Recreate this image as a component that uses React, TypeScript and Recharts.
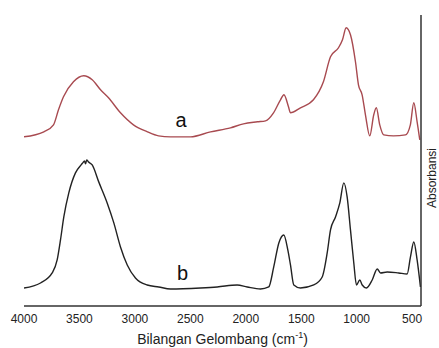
import { LineChart, Line, XAxis, YAxis, ReferenceDot } from "recharts";

// spectrum a (red, upper)
const wavenumbersA = [
  4000, 3821, 3734, 3689, 3644, 3554, 3461, 3385, 3310, 3238, 3130, 3013, 2887, 2787, 2679, 2499,
  2318, 2138, 2021, 1895, 1822, 1750, 1687, 1656, 1615, 1597, 1507, 1390, 1300, 1236, 1164, 1128,
  1095, 1056, 1011, 984, 951, 921, 882, 846, 823, 792, 756, 668, 560, 516, 485, 455, 431,
];
const absorbanceA = [
  1.69, 1.74, 1.81, 1.96, 2.09, 2.24, 2.3, 2.26, 2.16, 2.08, 1.93, 1.81, 1.74, 1.7, 1.69, 1.69,
  1.74, 1.78, 1.82, 1.84, 1.85, 1.93, 2.06, 2.11, 1.99, 1.93, 1.98, 2.06, 2.24, 2.49, 2.58, 2.66,
  2.78, 2.71, 2.44, 2.21, 2.11, 1.91, 1.7, 1.91, 1.98, 1.81, 1.71, 1.7, 1.71, 1.81, 2.03, 1.84, 1.66,
];

// spectrum b (black, lower)
const wavenumbersB = [
  4000, 3851, 3746, 3701, 3671, 3641, 3596, 3536, 3485, 3470, 3455, 3445, 3435, 3420, 3385, 3326,
  3250, 3190, 3130, 3069, 2995, 2889, 2785, 2679, 2409, 2258, 2078, 1987, 1867, 1793, 1748, 1702,
  1657, 1621, 1597, 1567, 1507, 1387, 1311, 1266, 1236, 1191, 1152, 1116, 1086, 1056, 1026, 1002,
  972, 950, 912, 860, 815, 785, 725, 621, 545, 515, 485, 455, 425,
];
const absorbanceB = [
  0.18, 0.23, 0.33, 0.46, 0.66, 0.89, 1.13, 1.33, 1.41, 1.43, 1.45, 1.42, 1.46, 1.44, 1.41, 1.24,
  1.03, 0.83, 0.59, 0.41, 0.28, 0.21, 0.19, 0.17, 0.18, 0.19, 0.21, 0.19, 0.17, 0.19, 0.39, 0.63,
  0.71, 0.56, 0.41, 0.21, 0.18, 0.21, 0.29, 0.53, 0.76, 0.89, 1.03, 1.23, 1.09, 0.76, 0.43, 0.21,
  0.26, 0.21, 0.18, 0.26, 0.37, 0.33, 0.34, 0.33, 0.32, 0.49, 0.64, 0.46, 0.19,
];

const xTicks = [4000, 3500, 3000, 2500, 2000, 1500, 1000, 500];

const dataA = wavenumbersA.map((wn, i) => ({ wn, a: absorbanceA[i] }));
const dataB = wavenumbersB.map((wn, i) => ({ wn, b: absorbanceB[i] }));

const font = "'Liberation Sans', Arial, sans-serif";

const XTitle = ({ viewBox }: any) => {
  const cx = viewBox.x + viewBox.width / 2;
  return (
    <text x={cx} y={viewBox.y + 38} textAnchor="middle" fontSize={14} fill="#222" fontFamily={font}>
      Bilangan Gelombang (cm
      <tspan fontSize={9} dy={-6}>-1</tspan>
      <tspan dy={6}>)</tspan>
    </text>
  );
};

const YTitle = ({ viewBox }: any) => {
  const x = viewBox.x + 15;
  const y = 178;
  return (
    <text x={x} y={y} textAnchor="middle" fontSize={12} fill="#222" fontFamily={font}
      transform={`rotate(-90, ${x}, ${y})`}>
      Absorbansi
    </text>
  );
};

export default function App() {
  return (
    <div style={{ position: "absolute", left: 0, top: 0, background: "#fff" }}>
      <LineChart width={439} height={348} margin={{ top: 15, right: 0, left: 24, bottom: 0 }}>
        <XAxis
          type="number"
          dataKey="wn"
          domain={[420, 4000]}
          reversed
          ticks={xTicks}
          tickLine={false}
          allowDataOverflow
          height={42}
          stroke="#333"
          strokeWidth={1.5}
          tick={{ fill: "#222", fontSize: 12, fontFamily: font }}
          label={<XTitle />}
        />
        <YAxis
          orientation="right"
          domain={[0, 2.907]}
          allowDataOverflow
          tick={false}
          tickLine={false}
          width={18}
          stroke="#333"
          strokeWidth={1.5}
          label={<YTitle />}
        />
        <Line
          data={dataA}
          dataKey="a"
          type="monotone"
          stroke="#a84a50"
          strokeWidth={1.4}
          dot={false}
          isAnimationActive={false}
        />
        <Line
          data={dataB}
          dataKey="b"
          type="monotone"
          stroke="#222"
          strokeWidth={1.4}
          dot={false}
          isAnimationActive={false}
        />
        <ReferenceDot x={2583} y={1.86} r={0}
          label={{ value: "a", position: "center", fontSize: 20, fill: "#111", fontFamily: font }} />
        <ReferenceDot x={2571} y={0.33} r={0}
          label={{ value: "b", position: "center", fontSize: 20, fill: "#111", fontFamily: font }} />
      </LineChart>
    </div>
  );
}
